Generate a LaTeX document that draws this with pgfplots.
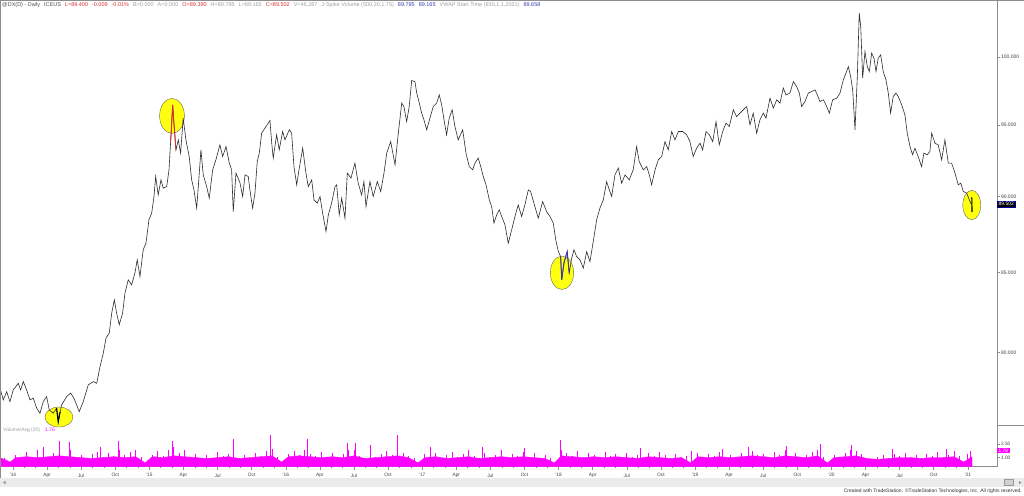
\documentclass[border=0pt]{standalone}
\usepackage{pgfplots}
\pgfplotsset{compat=1.18}
\usepackage{fontspec}
\setmainfont{Liberation Sans}

\definecolor{pline}{HTML}{2C2C2C}
\definecolor{vol}{HTML}{FF00FF}
\definecolor{hl}{HTML}{FFFF10}
\definecolor{axgray}{HTML}{8C8C8C}
\definecolor{lblgray}{HTML}{404040}
\definecolor{hred}{HTML}{D83030}
\definecolor{hblue}{HTML}{3838B8}
\definecolor{hgray}{HTML}{A0A0A0}
\definecolor{hdark}{HTML}{505050}

\begin{document}
\begin{tikzpicture}
\useasboundingbox (0,0) rectangle (1024pt,495pt);
\fill[white] (0,0) rectangle (1024pt,495pt);

% ---- price panel (log scale, daily close) ----
\begin{axis}[
  at={(0pt,70pt)}, anchor=south west,
  scale only axis, width=997pt, height=425pt,
  clip=false, clip marker paths=true,
  xmin=2013.905, xmax=2021.214,
  ymode=log, ymin=75.75, ymax=104.42,
  axis x line=none, axis y line*=right,
  axis line style={draw=axgray, line width=0.7pt},
  ytick={80,85,90,95,100},
  yticklabels={80.000,85.000,90.000,95.000,100.000},
  yminorticks=false,
  tick align=outside, major tick length=3pt,
  ytick style={draw=axgray, line width=0.5pt},
  yticklabel style={font=\fontsize{5}{6}\selectfont, text=lblgray, xshift=-2.5pt},
]
% highlight ellipses
\addplot[only marks, mark=*, mark size=10pt, mark options={fill=hl, draw=black!60, line width=0.4pt, xscale=1.4}] coordinates {(2014.337,76.20)};
\addplot[only marks, mark=*, mark size=17.5pt, mark options={fill=hl, draw=black!60, line width=0.4pt, xscale=0.71}] coordinates {(2015.166,95.66)};
\addplot[only marks, mark=*, mark size=16.7pt, mark options={fill=hl, draw=black!60, line width=0.4pt, xscale=0.70}] coordinates {(2018.025,84.97)};
\addplot[only marks, mark=*, mark size=14.7pt, mark options={fill=hl, draw=black!60, line width=0.4pt, xscale=0.61}] coordinates {(2021.029,89.43)};

\addplot[pline, line width=0.6pt] coordinates {
(2013.905,77.88)(2013.929,77.20)(2013.954,77.68)(2013.978,77.10)(2014.002,77.78)
(2014.039,78.18)(2014.056,77.78)(2014.076,78.27)(2014.100,77.78)(2014.125,77.20)
(2014.149,77.30)(2014.174,76.72)(2014.198,76.43)(2014.222,77.10)(2014.247,77.39)
(2014.266,76.62)(2014.295,76.43)(2014.320,76.72)(2014.332,75.93)(2014.357,76.91)
(2014.394,77.39)(2014.423,77.59)(2014.447,77.30)(2014.486,76.52)(2014.515,77.10)
(2014.552,78.07)(2014.589,78.27)(2014.614,78.18)(2014.638,79.16)(2014.662,79.97)
(2014.682,80.88)(2014.706,81.19)(2014.724,82.42)(2014.743,83.25)(2014.760,82.42)
(2014.779,81.70)(2014.804,82.42)(2014.821,83.67)(2014.845,84.52)(2014.870,84.20)
(2014.894,84.95)(2014.911,85.80)(2014.931,84.73)(2014.955,86.46)(2014.975,86.89)
(2014.997,88.44)(2015.017,88.89)(2015.034,90.01)(2015.046,91.38)(2015.065,90.12)
(2015.085,91.15)(2015.102,90.58)(2015.127,90.69)(2015.144,91.84)(2015.156,93.82)
(2015.171,96.46)(2015.180,95.14)(2015.195,93.24)(2015.212,93.94)(2015.229,93.01)
(2015.248,95.50)(2015.268,93.94)(2015.292,92.77)(2015.310,91.15)(2015.327,90.46)
(2015.347,89.22)(2015.366,91.61)(2015.378,93.24)(2015.395,91.49)(2015.420,90.69)
(2015.439,89.90)(2015.464,91.84)(2015.488,92.54)(2015.517,93.59)(2015.537,92.77)
(2015.562,93.47)(2015.586,92.31)(2015.603,91.84)(2015.615,88.99)(2015.635,91.61)
(2015.664,90.96)(2015.684,90.01)(2015.701,91.49)(2015.725,91.38)(2015.737,90.46)
(2015.757,89.22)(2015.774,90.24)(2015.791,92.42)(2015.806,93.01)(2015.823,94.42)
(2015.847,94.78)(2015.864,95.02)(2015.884,95.33)(2015.897,93.71)(2015.908,92.66)
(2015.933,94.30)(2015.952,93.24)(2015.977,94.54)(2015.994,93.94)(2016.026,94.66)
(2016.043,94.42)(2016.060,92.07)(2016.080,90.81)(2016.099,91.96)(2016.124,93.36)
(2016.148,91.61)(2016.165,90.69)(2016.190,91.15)(2016.207,89.78)(2016.231,89.56)
(2016.251,90.01)(2016.270,88.89)(2016.295,87.66)(2016.312,88.77)(2016.336,89.56)
(2016.361,90.69)(2016.373,90.81)(2016.392,88.77)(2016.410,89.90)(2016.434,88.55)
(2016.451,91.61)(2016.478,91.27)(2016.507,92.31)(2016.531,90.92)(2016.556,90.12)
(2016.573,91.03)(2016.588,89.33)(2016.617,91.03)(2016.641,90.01)(2016.671,91.03)
(2016.696,90.35)(2016.720,91.61)(2016.740,93.01)(2016.769,93.82)(2016.801,92.19)
(2016.825,94.42)(2016.850,96.59)(2016.866,96.34)(2016.886,95.25)(2016.905,96.34)
(2016.923,98.25)(2016.947,98.17)(2016.960,97.32)(2016.979,96.59)(2016.996,95.86)
(2017.013,95.37)(2017.033,94.66)(2017.057,95.50)(2017.081,96.34)(2017.106,96.59)
(2017.125,97.19)(2017.143,96.46)(2017.160,95.37)(2017.179,94.30)(2017.198,95.50)
(2017.220,96.10)(2017.240,94.89)(2017.264,93.94)(2017.297,94.66)(2017.321,93.01)
(2017.345,92.07)(2017.370,91.84)(2017.387,92.31)(2017.411,92.66)(2017.429,92.07)
(2017.448,91.38)(2017.468,90.81)(2017.492,89.78)(2017.509,89.33)(2017.526,88.22)
(2017.546,88.77)(2017.565,89.11)(2017.583,88.66)(2017.607,88.10)(2017.631,86.89)
(2017.656,87.77)(2017.680,88.66)(2017.704,89.44)(2017.729,88.66)(2017.753,89.44)
(2017.778,90.46)(2017.795,90.35)(2017.819,89.56)(2017.851,88.55)(2017.883,89.67)
(2017.912,88.99)(2017.937,88.66)(2017.961,88.22)(2017.979,87.11)(2017.998,86.34)
(2018.015,86.02)(2018.023,84.52)(2018.039,85.59)(2018.063,86.34)(2018.078,84.95)
(2018.096,85.92)(2018.113,86.46)(2018.132,86.02)(2018.157,85.80)(2018.181,85.27)
(2018.206,86.34)(2018.230,85.69)(2018.254,87.00)(2018.279,88.44)(2018.303,89.22)
(2018.328,89.78)(2018.352,91.03)(2018.372,90.46)(2018.389,90.01)(2018.413,91.49)
(2018.438,91.96)(2018.462,90.92)(2018.487,91.49)(2018.518,91.15)(2018.547,91.84)
(2018.572,93.47)(2018.591,92.42)(2018.621,91.84)(2018.646,92.07)(2018.665,91.49)
(2018.682,90.81)(2018.707,91.84)(2018.731,92.54)(2018.756,92.77)(2018.780,93.82)
(2018.804,93.24)(2018.829,94.54)(2018.853,93.94)(2018.878,94.54)(2018.910,94.54)
(2018.939,94.30)(2018.963,93.82)(2018.987,92.77)(2019.012,93.36)(2019.037,93.71)
(2019.056,93.24)(2019.081,94.54)(2019.105,94.30)(2019.130,93.82)(2019.154,95.25)
(2019.178,93.59)(2019.203,94.54)(2019.227,95.14)(2019.251,94.89)(2019.281,96.10)
(2019.305,95.61)(2019.330,95.86)(2019.354,96.10)(2019.379,96.34)(2019.403,95.02)
(2019.427,95.86)(2019.452,94.42)(2019.476,95.37)(2019.501,95.86)(2019.520,95.50)
(2019.550,96.95)(2019.574,96.22)(2019.599,96.83)(2019.623,96.59)(2019.647,97.69)
(2019.667,97.19)(2019.696,97.32)(2019.721,98.17)(2019.745,97.80)(2019.765,97.32)
(2019.782,96.34)(2019.806,96.70)(2019.831,97.32)(2019.856,97.44)(2019.880,97.56)
(2019.897,97.19)(2019.916,96.70)(2019.941,96.83)(2019.960,96.46)(2019.985,95.86)
(2020.009,96.83)(2020.039,96.95)(2020.063,97.32)(2020.087,98.30)(2020.107,98.80)
(2020.124,99.29)(2020.141,98.55)(2020.156,97.56)(2020.173,94.66)(2020.190,98.55)
(2020.204,103.38)(2020.215,102.34)(2020.229,98.43)(2020.246,100.42)(2020.263,99.29)
(2020.278,98.92)(2020.295,100.30)(2020.312,99.92)(2020.327,98.92)(2020.343,99.92)
(2020.361,100.17)(2020.380,98.92)(2020.400,98.30)(2020.417,97.32)(2020.434,95.86)
(2020.453,97.07)(2020.473,97.32)(2020.490,97.07)(2020.515,96.46)(2020.539,95.73)
(2020.556,94.42)(2020.576,93.47)(2020.595,92.89)(2020.612,93.36)(2020.636,92.77)
(2020.661,92.07)(2020.678,93.01)(2020.702,92.89)(2020.722,93.12)(2020.735,94.42)
(2020.759,93.71)(2020.783,93.59)(2020.808,92.54)(2020.832,93.94)(2020.857,92.31)
(2020.881,92.31)(2020.906,91.61)(2020.930,90.81)(2020.948,90.92)(2020.967,90.35)
(2020.992,90.24)(2021.011,89.78)(2021.021,89.56)(2021.031,89.50)
};
% spike highlights
\addplot[hred, line width=0.9pt] coordinates {(2015.156,93.82)(2015.171,96.46)(2015.180,95.14)(2015.195,93.24)};
\addplot[hblue, line width=0.9pt] coordinates {(2018.015,86.02)(2018.023,84.52)(2018.039,85.59)(2018.063,86.34)(2018.078,84.95)};
\addplot[black, line width=1.1pt] coordinates {(2014.320,76.72)(2014.332,75.93)(2014.345,76.50)};
\addplot[black, line width=1.1pt] coordinates {(2021.029,89.95)(2021.031,88.95)};

\node[anchor=west, fill=black, draw=blue!55!black, line width=0.5pt, text=white,
      inner xsep=1.3pt, inner ysep=1.4pt,
      font=\fontsize{5}{6}\selectfont] at (axis cs:2021.214,89.502) {89.502};
\end{axis}

% ---- volume / average panel ----
\begin{axis}[
  at={(0pt,28.5pt)}, anchor=south west,
  scale only axis, width=997pt, height=41.5pt,
  clip=false,
  xmin=2013.905, xmax=2021.214,
  ymin=0, ymax=4.65,
  axis x line*=bottom, axis y line*=right,
  axis line style={draw=axgray, line width=0.7pt},
  ytick={1,2.5}, yticklabels={1.00,2.50},
  xtick={2014,2014.25,2014.5,2014.75,2015,2015.25,2015.5,2015.75,2016,2016.25,2016.5,2016.75,
         2017,2017.25,2017.5,2017.75,2018,2018.25,2018.5,2018.75,2019,2019.25,2019.5,2019.75,
         2020,2020.25,2020.5,2020.75,2021},
  xticklabels={'14,Apr,Jul,Oct,'15,Apr,Jul,Oct,'16,Apr,Jul,Oct,'17,Apr,Jul,Oct,
               '18,Apr,Jul,Oct,'19,Apr,Jul,Oct,'20,Apr,Jul,Oct,'21},
  minor x tick num=2,
  tick align=outside, major tick length=3pt, minor tick length=1.5pt,
  tick style={draw=axgray, line width=0.5pt},
  xticklabel style={font=\fontsize{4.8}{6}\selectfont, text=lblgray, yshift=-0.5pt},
  yticklabel style={font=\fontsize{4.8}{6}\selectfont, text=lblgray, xshift=-2.5pt},
]
% dense body of the volume ratio
\addplot[fill=vol, draw=vol, line width=0.3pt] coordinates {
(2013.905,1.0)(2013.98,0.5)(2014.02,1.0)(2014.10,1.1)(2014.18,1.0)(2014.26,1.1)(2014.34,1.2)
(2014.42,1.1)(2014.50,1.0)(2014.58,0.9)(2014.66,1.0)(2014.74,1.1)(2014.82,1.0)(2014.90,1.1)
(2014.97,0.4)(2015.02,1.1)(2015.10,1.0)(2015.18,1.2)(2015.26,1.1)(2015.34,1.0)(2015.42,0.9)
(2015.50,1.0)(2015.58,1.1)(2015.66,0.9)(2015.74,1.0)(2015.82,1.1)(2015.90,1.2)(2015.97,0.5)
(2016.02,1.1)(2016.10,1.2)(2016.18,1.1)(2016.26,1.0)(2016.34,1.1)(2016.42,1.0)(2016.50,1.2)
(2016.58,0.9)(2016.66,1.0)(2016.74,1.1)(2016.82,1.2)(2016.90,1.0)(2016.97,0.4)(2017.02,1.0)
(2017.10,1.1)(2017.18,0.9)(2017.26,1.0)(2017.34,1.1)(2017.42,0.9)(2017.50,1.0)(2017.58,1.1)
(2017.66,1.0)(2017.74,1.1)(2017.82,1.0)(2017.90,0.9)(2017.97,0.4)(2018.02,1.2)(2018.10,1.1)
(2018.18,1.0)(2018.26,1.1)(2018.34,1.0)(2018.42,1.1)(2018.50,1.0)(2018.58,0.9)(2018.66,1.1)
(2018.74,1.0)(2018.82,0.9)(2018.90,1.0)(2018.97,0.4)(2019.02,1.1)(2019.10,1.0)(2019.18,1.1)
(2019.26,1.0)(2019.34,1.1)(2019.42,1.2)(2019.50,1.1)(2019.58,1.0)(2019.66,1.2)(2019.74,1.1)
(2019.82,1.0)(2019.90,1.2)(2019.97,0.4)(2020.02,1.0)(2020.10,1.1)(2020.18,1.2)(2020.26,0.9)
(2020.34,0.8)(2020.42,0.9)(2020.50,1.0)(2020.58,1.0)(2020.66,0.9)(2020.74,1.0)(2020.82,1.0)
(2020.90,1.1)(2020.97,0.5)(2021.031,1.1)
} \closedcycle;
% daily bars that stand above the body
\addplot[ycomb, vol, line width=0.9pt] coordinates {
(2013.94,0.9)(2014.02,1.3)(2014.06,0.9)(2014.10,1.6)(2014.14,1.0)(2014.18,1.8)(2014.26,1.1)
(2014.30,1.5)(2014.34,2.0)(2014.38,1.2)(2014.42,1.9)(2014.46,1.0)(2014.50,1.3)(2014.54,0.8)
(2014.58,1.4)(2014.62,1.6)(2014.66,1.1)(2014.70,1.5)(2014.74,1.2)(2014.78,1.9)(2014.82,1.3)
(2014.86,1.6)(2014.90,1.8)(2014.94,1.1)
(2015.02,1.3)(2015.06,1.7)(2015.10,1.2)(2015.14,1.9)(2015.18,2.2)(2015.22,1.5)(2015.26,1.8)
(2015.30,1.1)(2015.34,1.4)(2015.38,0.9)(2015.42,1.3)(2015.46,1.0)(2015.50,1.6)(2015.54,1.2)
(2015.58,1.4)(2015.62,1.9)(2015.66,1.0)(2015.70,1.3)(2015.74,0.9)(2015.78,1.5)(2015.82,1.2)
(2015.86,1.7)(2015.90,2.0)(2015.94,1.1)
(2016.02,1.4)(2016.06,1.7)(2016.10,1.3)(2016.14,1.9)(2016.18,1.4)(2016.22,1.2)(2016.26,1.6)
(2016.30,1.0)(2016.34,1.5)(2016.38,1.1)(2016.42,1.4)(2016.46,1.8)(2016.50,1.9)(2016.54,1.2)
(2016.58,1.0)(2016.62,1.6)(2016.66,1.1)(2016.70,1.4)(2016.74,1.7)(2016.78,1.3)(2016.82,2.0)
(2016.86,1.5)(2016.90,1.2)(2016.94,1.0)
(2017.02,1.4)(2017.06,1.1)(2017.10,1.5)(2017.14,1.0)(2017.18,1.3)(2017.22,1.6)(2017.26,1.1)
(2017.30,1.4)(2017.34,1.8)(2017.38,1.2)(2017.42,1.0)(2017.46,1.5)(2017.50,1.1)(2017.54,1.3)
(2017.58,1.8)(2017.62,1.0)(2017.66,1.4)(2017.70,1.2)(2017.74,1.6)(2017.78,1.1)(2017.82,1.5)
(2017.86,0.9)(2017.90,1.3)(2017.94,1.0)
(2018.02,1.9)(2018.06,1.5)(2018.10,1.2)(2018.14,1.7)(2018.18,1.1)(2018.22,1.5)(2018.26,1.3)
(2018.30,1.0)(2018.34,1.6)(2018.38,1.2)(2018.42,1.4)(2018.46,1.0)(2018.50,1.5)(2018.54,1.1)
(2018.58,1.3)(2018.62,1.0)(2018.66,1.5)(2018.70,1.2)(2018.74,1.6)(2018.78,1.3)(2018.82,1.0)
(2018.86,1.4)(2018.90,1.1)(2018.94,1.2)
(2019.02,1.5)(2019.06,1.1)(2019.10,1.4)(2019.14,1.2)(2019.18,1.6)(2019.22,1.0)(2019.26,1.3)
(2019.30,1.1)(2019.34,1.5)(2019.38,1.2)(2019.42,1.7)(2019.46,1.3)(2019.50,1.4)(2019.54,1.1)
(2019.58,1.6)(2019.62,1.3)(2019.66,1.8)(2019.70,1.2)(2019.74,1.5)(2019.78,1.0)(2019.82,1.3)
(2019.86,1.6)(2019.90,1.8)(2019.94,1.1)
(2020.02,1.3)(2020.06,1.1)(2020.10,1.5)(2020.14,1.9)(2020.18,1.7)(2020.22,1.4)(2020.26,1.0)
(2020.30,0.8)(2020.34,1.1)(2020.38,1.3)(2020.42,1.0)(2020.46,1.4)(2020.50,1.2)(2020.54,1.5)
(2020.58,1.1)(2020.62,1.3)(2020.66,1.0)(2020.70,1.4)(2020.74,1.2)(2020.78,1.6)(2020.82,1.1)
(2020.86,1.3)(2020.90,1.7)(2020.94,1.2)(2021.00,1.4)
};
% tall spikes
\addplot[ycomb, vol, line width=0.7pt] coordinates {
(2014.22,2.2)(2014.337,2.9)(2014.41,2.8)(2014.638,2.2)(2014.77,2.9)(2015.166,2.9)
(2015.613,3.1)(2015.89,3.5)(2016.155,3.1)(2016.449,2.6)(2016.507,2.6)(2016.617,2.4)
(2016.815,3.5)(2017.057,2.2)(2017.44,2.2)(2017.75,2.1)(2018.015,3.0)(2018.60,2.1)
(2018.976,1.7)(2019.20,2.0)(2019.389,2.2)(2019.672,2.3)(2019.916,2.5)(2020.149,2.4)
(2020.45,2.0)(2020.845,2.0)(2021.016,1.75)
};
\node[anchor=west, fill=vol, text=white, inner xsep=1.5pt, inner ysep=0.7pt,
      font=\fontsize{4.8}{6}\selectfont] at (axis cs:2021.214,1.76) {1.76};
\end{axis}

% frame and window chrome
\draw[axgray, line width=0.7pt] (0,494.6pt) -- (1024pt,494.6pt);
\draw[axgray, line width=0.6pt] (0.4pt,494.6pt) -- (0.4pt,17pt);
\draw[axgray, line width=0.6pt] (997pt,70pt) -- (1024pt,70pt);
\fill[black!8] (0,8pt) rectangle (1024pt,17pt);
\fill[black!45] (3pt,12.5pt) -- (5.5pt,14pt) -- (5.5pt,11pt) -- cycle;
\draw[black!40, fill=black!18, line width=0.3pt] (1004pt,9.5pt) rectangle (1013pt,15.5pt);
\fill[black!45] (1019pt,11pt) -- (1019pt,14pt) -- (1021.5pt,12.5pt) -- cycle;

% header line
\node[anchor=west, inner sep=0pt, font=\fontsize{5.5}{6.5}\selectfont] at (2pt,489.8pt) {%
\textcolor{hdark}{@DX(D) - Daily\hspace{4pt}ICEUS}\hspace{4pt}%
\textcolor{hred}{L=89.400\hspace{4pt}-0.009\hspace{4pt}-0.01\%}\hspace{4pt}%
\textcolor{hgray}{B=0.000\hspace{4pt}A=0.000}\hspace{4pt}%
\textcolor{hred}{O=89.390}\hspace{4pt}%
\textcolor{hgray}{H=89.795\hspace{4pt}L=89.165}\hspace{4pt}%
\textcolor{hred}{C=89.502}\hspace{4pt}%
\textcolor{hgray}{V=46,287\hspace{4pt}J-Spike Volume (500,20,1.75)}\hspace{4pt}%
\textcolor{hblue}{89.795\hspace{4pt}89.165}\hspace{4pt}%
\textcolor{hgray}{VWAP Start Time (930,1,1,2021)}\hspace{4pt}%
\textcolor{hblue}{89.658}};

\node[anchor=west, inner sep=0pt, font=\fontsize{5}{6}\selectfont] at (3pt,65pt) {%
\textcolor{hgray}{Volume/Avg (20)}\hspace{5pt}\textcolor{vol}{1.76}};

\node[anchor=east, inner sep=0pt, font=\fontsize{5}{6}\selectfont, text=black!80] at (1022pt,3.8pt)
  {Created with TradeStation. ©TradeStation Technologies, Inc. All rights reserved.};
\end{tikzpicture}
\end{document}
